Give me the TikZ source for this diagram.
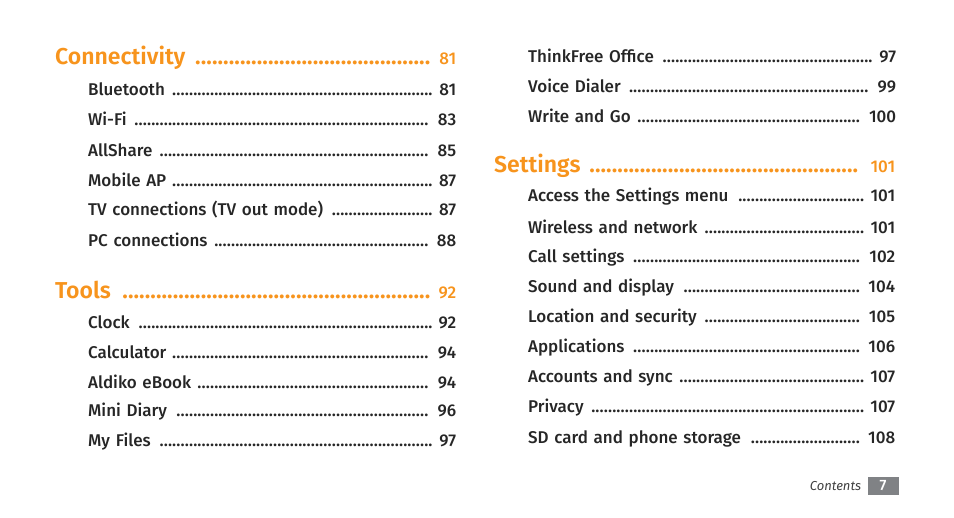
\documentclass[tikz,border=0pt]{standalone}
\usepackage{fontspec}
\setmainfont{Fira Sans}[UprightFont=* Medium,BoldFont=* SemiBold,ItalicFont=* Italic]
\usetikzlibrary{positioning}
\definecolor{tocorange}{HTML}{F7941D}
\definecolor{tocgray}{HTML}{808285}
\tikzset{
  entry/.style={anchor=west,inner sep=0pt,text width=368pt,font=\fontsize{17}{17}\selectfont,text=black!85},
  head/.style={anchor=west,inner sep=0pt,text width=401pt,font=\fontsize{23}{23}\selectfont\bfseries,text=tocorange}
}
\newcommand{\tocdots}{\leaders\hbox to 4.2pt{\hss.\hss}\hfill}
\newcommand{\headdots}{\leaders\hbox to 5.6pt{\hss.\hss}\hfill}
\begin{document}
\begin{tikzpicture}[x=1pt,y=-1pt]
  \useasboundingbox (0,0) rectangle (954,518);
  % left column
  \node[head] (conn) at (55,58) {Connectivity \headdots\ {\mdseries\fontsize{17}{17}\selectfont 81}};
  \foreach \t/\n/\y [count=\i] in {Bluetooth/81/89,Wi-Fi/83/119,AllShare/85/150,Mobile AP/87/180,
      TV connections (TV out mode)/87/210,PC connections/88/240}
    \node[entry] (conn\i) at (88,\y) {\t\ \tocdots\ \n};
  \node[head] (tools) at (55,290) {Tools \headdots\ {\mdseries\fontsize{17}{17}\selectfont 92}};
  \foreach \t/\n/\y [count=\i] in {Clock/92/322,Calculator/94/352,Aldiko eBook/94/382,
      Mini Diary/96/412,My Files/97/442}
    \node[entry] (tools\i) at (88,\y) {\t\ \tocdots\ \n};
  % right column
  \foreach \t/\n/\y [count=\i] in {ThinkFree Office/97/56,Voice Dialer/99/86,Write and Go/100/116}
    \node[entry] (misc\i) at (528,\y) {\t\ \tocdots\ \n};
  \node[head] (set) at (494,166) {Settings \headdots\ {\mdseries\fontsize{17}{17}\selectfont 101}};
  \foreach \t/\n/\y [count=\i] in {Access the Settings menu/101/197,Wireless and network/101/227,
      Call settings/102/258,Sound and display/104/288,Location and security/105/318,
      Applications/106/348,Accounts and sync/107/378,Privacy/107/408,SD card and phone storage/108/439}
    \node[entry,text width=367pt] (set\i) at (528,\y) {\t\ \tocdots\ \n};
  % footer
  \node[fill=tocgray,text=white,minimum width=31pt,minimum height=18pt,inner sep=0pt,
    font=\fontsize{15}{15}\selectfont] (page) at (883,486) {7};
  \node[left=6pt of page,inner sep=0pt,text=black!75,font=\fontsize{13}{13}\selectfont\itshape] (cont) {Contents};
\end{tikzpicture}
\end{document}
